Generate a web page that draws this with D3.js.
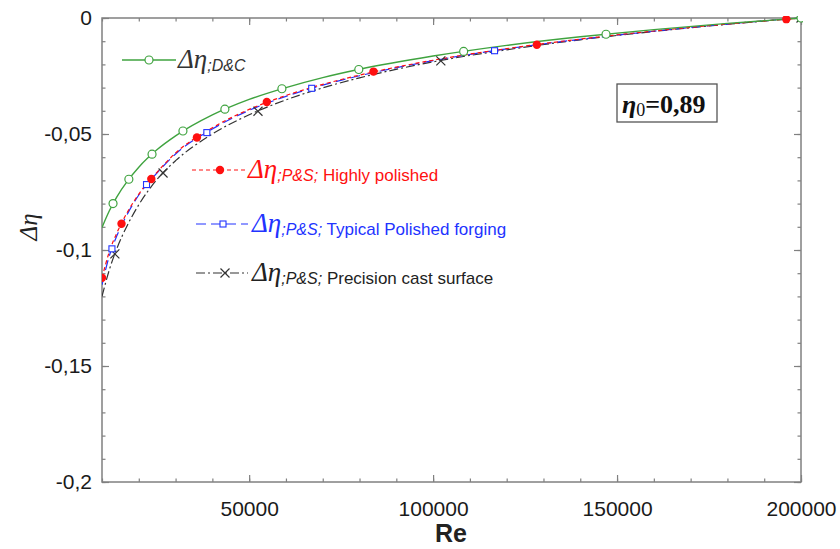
<!DOCTYPE html>
<html><head><meta charset="utf-8">
<script src="https://cdn.jsdelivr.net/npm/d3@7"></script>
<style>body{margin:0;background:#fff}svg{display:block}</style>
</head><body>
<svg id="c" width="840" height="549"></svg>
<script>
// ---- data ----
const reGrid = [10000,12000,14000,17000,20000,25000,30000,40000,50000,60000,70000,80000,100000,120000,140000,160000,180000,200000];
const dcVals    = [-0.0903,-0.0831,-0.0772,-0.0701,-0.0643,-0.0567,-0.0508,-0.0418,-0.0351,-0.0300,-0.0257,-0.0221,-0.0164,-0.0118,-0.0081,-0.0050,-0.0023,0];
const hpVals    = [-0.1120,-0.1007,-0.0928,-0.0834,-0.0759,-0.0664,-0.0582,-0.0473,-0.0394,-0.0334,-0.0286,-0.0246,-0.0182,-0.0132,-0.0091,-0.0056,-0.0026,0];
const tpVals    = [-0.1150,-0.1025,-0.0940,-0.0842,-0.0763,-0.0667,-0.0586,-0.0478,-0.0398,-0.0338,-0.0289,-0.0249,-0.0184,-0.0133,-0.0092,-0.0057,-0.0026,0];
const pcVals    = [-0.1200,-0.1085,-0.0995,-0.0890,-0.0805,-0.0695,-0.0615,-0.0500,-0.0417,-0.0353,-0.0301,-0.0258,-0.0189,-0.0137,-0.0094,-0.0058,-0.0027,0];

const dcMarkRe = [13000,17300,23600,32000,43400,58900,79800,108300,147000,200000];
const dcMarkV  = [-0.0800,-0.0695,-0.0587,-0.0487,-0.0393,-0.0305,-0.0222,-0.0144,-0.0070,0];
const hpMarkRe = [10000,15300,23400,35800,54800,83800,128200,196000];
const hpMarkV  = [-0.1120,-0.0887,-0.0694,-0.0515,-0.0362,-0.0231,-0.0115,-0.0005];
const tpMarkRe = [12700,22100,38500,67000,116700];
const tpMarkV  = [-0.0995,-0.0718,-0.0494,-0.0303,-0.0141];
const pcMarkRe = [13500,26600,52400,102100,200000];
const pcMarkV  = [-0.1017,-0.0668,-0.0402,-0.0185,0];

const xMajor = [50000,100000,150000,200000];
const xMinor = d3.range(10000,200001,10000);
const yMajor = [0,-0.05,-0.1,-0.15,-0.2];
const yMinor = d3.range(0,-0.2001,-0.01);
const yLabels = ["0","-0,05","-0,1","-0,15","-0,2"];

// ---- layout ----
const svg = d3.select("#c");
const L=102,R=801,T=18,B=482;
const x = d3.scaleLinear().domain([10000,200000]).range([L,R]);
const y = d3.scaleLinear().domain([-0.2,0]).range([B,T]);
const axisCol="#808080";

function styleAxis(g){
  g.select(".domain").remove();
  g.selectAll(".tick line").attr("stroke",axisCol).attr("stroke-width",1.2);
  g.selectAll("text").attr("font-family","Liberation Sans, Arial, sans-serif").attr("font-size",21).attr("fill","#1a1a1a");
}
// bottom
svg.append("g").attr("transform",`translate(0,${B})`)
  .call(d3.axisBottom(x).tickValues(xMinor).tickSize(-3.5).tickFormat(""))
  .call(styleAxis);
svg.append("g").attr("transform",`translate(0,${B})`)
  .call(d3.axisBottom(x).tickValues(xMajor).tickSize(-7).tickPadding(19).tickFormat(d3.format("d")))
  .call(styleAxis);
// top
svg.append("g").attr("transform",`translate(0,${T})`)
  .call(d3.axisTop(x).tickValues(xMinor).tickSize(-3.5).tickFormat("")).call(styleAxis);
svg.append("g").attr("transform",`translate(0,${T})`)
  .call(d3.axisTop(x).tickValues(xMajor).tickSize(-7).tickFormat("")).call(styleAxis);
// left
svg.append("g").attr("transform",`translate(${L},0)`)
  .call(d3.axisLeft(y).tickValues(yMinor).tickSize(-3.5).tickFormat("")).call(styleAxis);
svg.append("g").attr("transform",`translate(${L},0)`)
  .call(d3.axisLeft(y).tickValues(yMajor).tickSize(-7).tickPadding(10).tickFormat((d,i)=>yLabels[i]))
  .call(styleAxis);
// right
svg.append("g").attr("transform",`translate(${R},0)`)
  .call(d3.axisRight(y).tickValues(yMinor).tickSize(-3.5).tickFormat("")).call(styleAxis);
svg.append("g").attr("transform",`translate(${R},0)`)
  .call(d3.axisRight(y).tickValues(yMajor).tickSize(-7).tickFormat("")).call(styleAxis);

svg.append("rect").attr("x",L).attr("y",T).attr("width",R-L).attr("height",B-T)
  .attr("fill","none").attr("stroke",axisCol).attr("stroke-width",1.5);

// ---- series ----
const green="#3fa33f", red="#ff1010", blue="#2233ff", black="#333333";
const line = d3.line().x(d=>x(d[0])).y(d=>y(d[1])).curve(d3.curveMonotoneX);
svg.append("clipPath").attr("id","clp").append("rect").attr("x",L).attr("y",T-2).attr("width",R-L+2).attr("height",B-T+2);
const plot = svg.append("g").attr("clip-path","url(#clp)");

const series = [
  {vals:pcVals, col:black, dash:"9,3,2,3", w:1.2},
  {vals:tpVals, col:blue,  dash:"10,5", w:1.2},
  {vals:hpVals, col:red,   dash:"4,3", w:1.2},
  {vals:dcVals, col:green, dash:null, w:1.4}
];
series.forEach(s=>{
  plot.append("path").datum(reGrid.map((r,i)=>[r,s.vals[i]]))
    .attr("d",line).attr("fill","none").attr("stroke",s.col).attr("stroke-width",s.w)
    .attr("stroke-dasharray",s.dash);
});

function circleOpen(g,cx,cy){g.append("circle").attr("cx",cx).attr("cy",cy).attr("r",4).attr("fill","#fff").attr("stroke",green).attr("stroke-width",1.2);}
function dotRed(g,cx,cy){g.append("circle").attr("cx",cx).attr("cy",cy).attr("r",4.2).attr("fill",red);}
function sqBlue(g,cx,cy){g.append("rect").attr("x",cx-3).attr("y",cy-3).attr("width",6).attr("height",6).attr("fill","#fff").attr("stroke",blue).attr("stroke-width",1.1);}
function xBlack(g,cx,cy){const s=4.5;g.append("path").attr("d",`M${cx-s},${cy-s}L${cx+s},${cy+s}M${cx-s},${cy+s}L${cx+s},${cy-s}`).attr("stroke",black).attr("stroke-width",1.2);}

pcMarkRe.forEach((r,i)=>xBlack(plot,x(r),y(pcMarkV[i])));
tpMarkRe.forEach((r,i)=>sqBlue(plot,x(r),y(tpMarkV[i])));
hpMarkRe.forEach((r,i)=>dotRed(plot,x(r),y(hpMarkV[i])));
dcMarkRe.forEach((r,i)=>circleOpen(plot,x(r),y(dcMarkV[i])));

// ---- legends ----
const lg = svg.append("g");
function legendLine(x1,x2,yy,col,dash,w){lg.append("line").attr("x1",x1).attr("x2",x2).attr("y1",yy).attr("y2",yy).attr("stroke",col).attr("stroke-width",w).attr("stroke-dasharray",dash);}
function legendText(tx,ty,col,sub,rest){
  const t = lg.append("text").attr("x",tx).attr("y",ty).attr("fill",col);
  t.append("tspan").text("Δη").attr("font-family","Liberation Serif, Times New Roman, serif").attr("font-style","italic").attr("font-size",27);
  t.append("tspan").text(sub).attr("font-family","Liberation Sans, Arial, sans-serif").attr("font-style","italic").attr("font-size",16).attr("dy",3);
  if(rest) t.append("tspan").text(rest).attr("font-family","Liberation Sans, Arial, sans-serif").attr("font-size",17);
}
legendLine(122,176,60,green,null,1.4); circleOpen(lg,149,60);
legendText(178,68,"#333",";D&C",null);

legendLine(192,245,170,red,"4,3",1.2); dotRed(lg,220,170);
legendText(248,178,red,";P&S;"," Highly polished");

legendLine(196,248,224,blue,"10,5",1.2); sqBlue(lg,223,224);
legendText(252,232,blue,";P&S;"," Typical Polished forging");

legendLine(196,248,273,black,"9,3,2,3",1.2); xBlack(lg,225,273);
legendText(252,281,"#222",";P&S;"," Precision cast surface");

// eta0 box
svg.append("rect").attr("x",617).attr("y",84).attr("width",100).attr("height",38).attr("fill","#fff").attr("stroke","#555").attr("stroke-width",1.3);
const et = svg.append("text").attr("x",622).attr("y",113).attr("fill","#111")
  .attr("font-family","Liberation Serif, Times New Roman, serif").attr("font-weight","bold").attr("font-size",26);
et.append("tspan").text("η").attr("font-style","italic");
et.append("tspan").text("0").attr("font-size",18).attr("dy",3).attr("font-weight","normal");
et.append("tspan").text("=0,89").attr("dy",-3);

// axis titles
svg.append("text").attr("transform","translate(37,227) rotate(-90)").attr("text-anchor","middle")
  .attr("font-family","Liberation Serif, Times New Roman, serif").attr("font-style","italic").attr("font-size",25).attr("fill","#222").text("Δη");
svg.append("text").attr("x",451).attr("y",542).attr("text-anchor","middle")
  .attr("font-family","Liberation Sans, Arial, sans-serif").attr("font-weight","bold").attr("font-size",25).attr("fill","#222").text("Re");
</script>
</body></html>
